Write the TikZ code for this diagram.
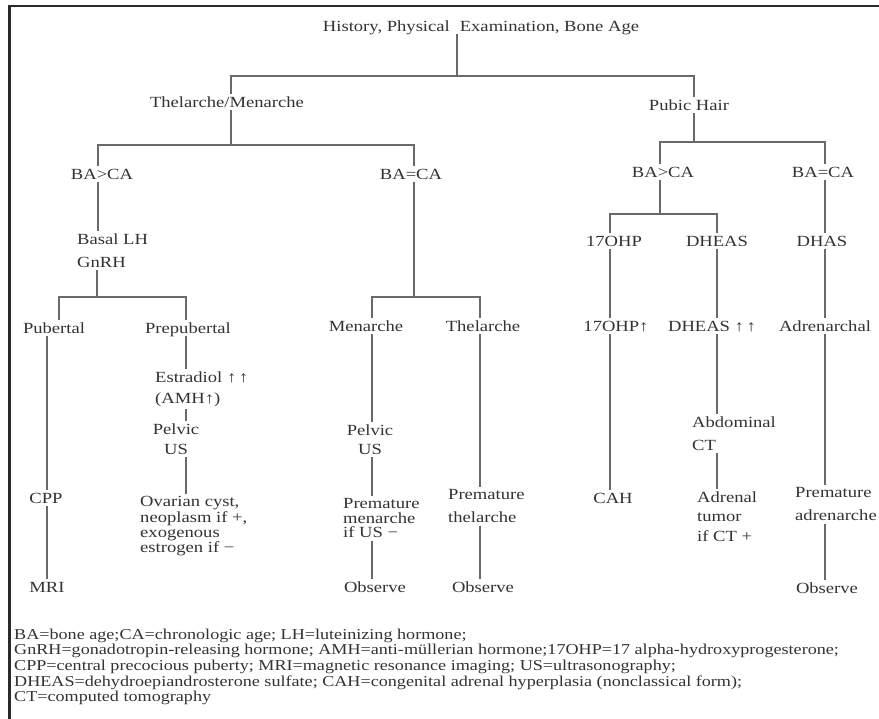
\documentclass[tikz,border=0pt]{standalone}
\usepackage{fontspec}
\setmainfont{Liberation Serif}[FakeStretch=1.2]
\definecolor{txt}{HTML}{333333}
\definecolor{ln}{HTML}{6A6A6A}
\definecolor{frm}{HTML}{2A2A2A}
\begin{document}
\begin{tikzpicture}[x=1pt,y=-1pt,
  lbl/.style={inner sep=2.5pt, text=txt, font=\fontsize{15.5}{18}\selectfont, text height=10.5pt, text depth=0pt},
  ml/.style 2 args={inner sep=2.5pt, text=txt, align=#1, font=\fontsize{15.5}{#2}\selectfont},
  edge/.style={draw=ln, line width=1.3pt},
  frame/.style={draw=frm, line width=2.4pt}]
\useasboundingbox (0,0) rectangle (879,719);
\fill[white] (0,0) rectangle (879,719);
\draw[frame] (8,6) -- (879,6);
\draw[frame] (9.5,6) -- (9.5,719);

% junctions and columns
\coordinate (j0) at (457,76);
\coordinate (j1) at (231,145);
\coordinate (j2) at (97,297);
\coordinate (j3) at (414,297);
\coordinate (j4) at (694,142);
\coordinate (j5) at (660,214);
\coordinate (cbl) at (98,0);
\coordinate (cbm) at (414,0);
\coordinate (cpub) at (59,0);
\coordinate (ccpp) at (47,0);
\coordinate (cprep) at (186,0);
\coordinate (cmen) at (372,0);
\coordinate (cthel) at (480,0);
\coordinate (cbr) at (660,0);
\coordinate (cbre) at (825,0);
\coordinate (coh) at (610,0);
\coordinate (cdh) at (717,0);

% single-line nodes
\node[lbl] (root) at (481,26) {History,\ Physical\hspace{10pt}Examination,\ Bone Age};
\node[lbl] (tm) at (227,102) {Thelarche/Menarche};
\node[lbl] (ph) at (689,105) {Pubic Hair};
\node[lbl] (bl) at (102,174) {BA>CA};
\node[lbl] (bm) at (411,174) {BA=CA};
\node[lbl] (br) at (663,172) {BA>CA};
\node[lbl] (bre) at (823,172) {BA=CA};
\node[lbl] (oh) at (614,241) {17OHP};
\node[lbl] (dh) at (717,241) {DHEAS};
\node[lbl] (dhas) at (822,241) {DHAS};
\node[lbl] (pub) at (54,328) {Pubertal};
\node[lbl] (prep) at (188,328) {Prepubertal};
\node[lbl] (men) at (366,326) {Menarche};
\node[lbl] (thel) at (483,326) {Thelarche};
\node[lbl] (oh2) at (616,326) {17OHP↑};
\node[lbl] (dh2) at (712,326) {DHEAS ↑\,↑};
\node[lbl] (adrl) at (825,326) {Adrenarchal};
\node[lbl] (cpp) at (46,498) {CPP};
\node[lbl] (cah) at (613,498) {CAH};
\node[lbl] (mri) at (47,587) {MRI};
\node[lbl] (obs1) at (375,587) {Observe};
\node[lbl] (obs2) at (483,587) {Observe};
\node[lbl] (obs3) at (827,588) {Observe};

% multi-line nodes
\node[ml={left}{23pt}, anchor=north west] (basal) at (74.5,231) {Basal LH\\GnRH};
\node[ml={left}{21pt}, anchor=north west] (estr) at (152.5,369) {Estradiol ↑\,↑\\(AMH↑)};
\node[ml={center}{20pt}, anchor=north] (pelv1) at (176,421) {Pelvic\\US};
\node[ml={left}{15.3pt}, anchor=north west] (ova) at (137.5,494) {Ovarian cyst,\\neoplasm if +,\\exogenous\\estrogen if −};
\node[ml={center}{19pt}, anchor=north] (pelv2) at (370,422) {Pelvic\\US};
\node[ml={left}{14.5pt}, anchor=north west] (pmen) at (340.5,496) {Premature\\menarche\\if US −};
\node[ml={left}{23pt}, anchor=north west] (pthel) at (445.5,487) {Premature\\thelarche};
\node[ml={left}{23pt}, anchor=north west] (abd) at (689.5,414) {Abdominal\\CT};
\node[ml={left}{19.5pt}, anchor=north west] (adr) at (694.5,489) {Adrenal\\tumor\\if CT +};
\node[ml={left}{23pt}, anchor=north west] (padr) at (792.5,485) {Premature\\adrenarche};

% legend
\node[inner sep=0pt, text=txt, align=left, anchor=north west,
      font=\fontsize{15.1}{15.7pt}\selectfont] (legend) at (14,628.5)
  {BA=bone age;CA=chronologic age; LH=luteinizing hormone;\\
   GnRH=gonadotropin-releasing hormone; AMH=anti-müllerian hormone;17OHP=17 alpha-hydroxyprogesterone;\\
   CPP=central precocious puberty; MRI=magnetic resonance imaging; US=ultrasonography;\\
   DHEAS=dehydroepiandrosterone sulfate; CAH=congenital adrenal hyperplasia (nonclassical form);\\
   CT=computed tomography};

% connectors
\draw[edge] (root.south -| j0) -- (j0);
\draw[edge] (tm.north -| j1) -- (j1 |- j0) -- (j4 |- j0) -- (ph.north -| j4);
\draw[edge] (tm.south -| j1) -- (j1);
\draw[edge] (bl.north -| cbl) -- (cbl |- j1) -- (cbm |- j1) -- (bm.north -| cbm);
\draw[edge] (bl.south -| cbl) -- (basal.north -| cbl);
\draw[edge] (basal.south -| j2) -- (j2);
\draw[edge] (pub.north -| cpub) -- (cpub |- j2) -- (cprep |- j2) -- (prep.north -| cprep);
\draw[edge] (pub.south -| ccpp) -- (cpp.north -| ccpp);
\draw[edge] (cpp.south -| ccpp) -- (mri.north -| ccpp);
\draw[edge] (prep.south -| cprep) -- (estr.north -| cprep);
\draw[edge] (estr.south -| cprep) -- (pelv1.north -| cprep);
\draw[edge] (pelv1.south -| cprep) -- (ova.north -| cprep);
\draw[edge] (bm.south -| cbm) -- (j3);
\draw[edge] (men.north -| cmen) -- (cmen |- j3) -- (cthel |- j3) -- (thel.north -| cthel);
\draw[edge] (men.south -| cmen) -- (pelv2.north -| cmen);
\draw[edge] (pelv2.south -| cmen) -- (pmen.north -| cmen);
\draw[edge] (pmen.south -| cmen) -- (obs1.north -| cmen);
\draw[edge] (thel.south -| cthel) -- (pthel.north -| cthel);
\draw[edge] (pthel.south -| cthel) -- (obs2.north -| cthel);
\draw[edge] (ph.south -| j4) -- (j4);
\draw[edge] (br.north -| cbr) -- (cbr |- j4) -- (cbre |- j4) -- (bre.north -| cbre);
\draw[edge] (br.south -| j5) -- (j5);
\draw[edge] (oh.north -| coh) -- (coh |- j5) -- (cdh |- j5) -- (dh.north -| cdh);
\draw[edge] (oh.south -| coh) -- (oh2.north -| coh);
\draw[edge] (oh2.south -| coh) -- (cah.north -| coh);
\draw[edge] (dh.south -| cdh) -- (dh2.north -| cdh);
\draw[edge] (dh2.south -| cdh) -- (abd.north -| cdh);
\draw[edge] (abd.south -| cdh) -- (adr.north -| cdh);
\draw[edge] (bre.south -| cbre) -- (dhas.north -| cbre);
\draw[edge] (dhas.south -| cbre) -- (adrl.north -| cbre);
\draw[edge] (adrl.south -| cbre) -- (padr.north -| cbre);
\draw[edge] (padr.south -| cbre) -- (obs3.north -| cbre);
\end{tikzpicture}
\end{document}
